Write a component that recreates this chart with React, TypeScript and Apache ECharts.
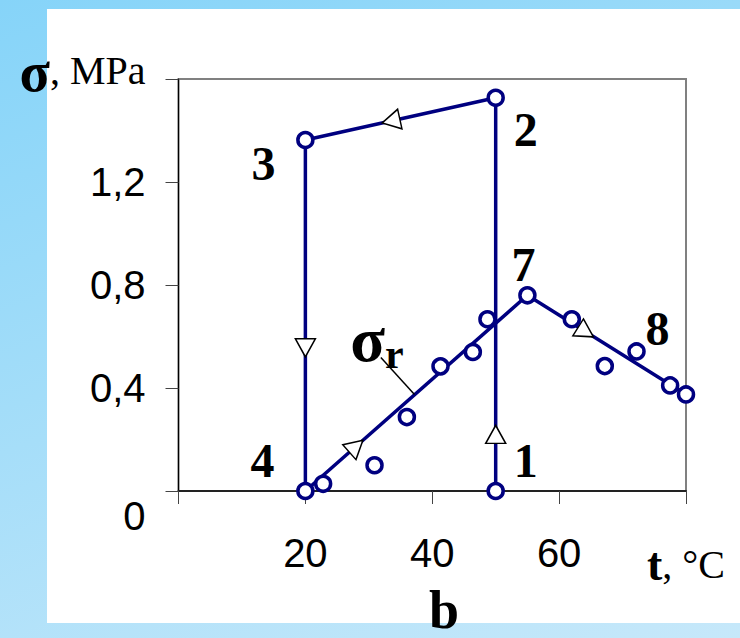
import React, { useEffect, useRef } from 'react';
import * as echarts from 'echarts';

// ---- data ----
const loopT = [50, 50, 20, 20];
const loopSigma = [0, 1.527, 1.363, 0];
const loopLabels = ['1', '2', '3', '4'];

const fitT = [20, 55, 80];
const fitSigma = [0, 0.76, 0.375];

const expT = [22.8, 30.9, 36.0, 41.3, 46.4, 48.7, 55.0, 62.0, 67.2, 72.2, 77.5, 80.0];
const expSigma = [0.028, 0.1, 0.287, 0.484, 0.54, 0.667, 0.76, 0.667, 0.485, 0.542, 0.41, 0.375];
const expLabels = ['', '', '', '', '', '', '7', '', '', '8', '', ''];

const arrowT = [50, 33.5, 20, 28, 64.2];
const arrowSigma = [0.22, 1.437, 0.556, 0.174, 0.617];

const leaderT = [31.9, 37.2];
const leaderSigma = [0.518, 0.375];

const xTickLabels = ['', '20', '40', '60', ''];
const yTickLabels = ['0', '0,4', '0,8', '1,2', ''];
const xAxisName = 't';
const xAxisUnit = ', °C';
const yAxisName = 'σ';
const yAxisUnit = ', MPa';
const fitName = 'σ';
const fitSub = 'r';
const panelLetter = 'b';

// ---- styles ----
const NAVY = '#000080';
const SERIF = 'Liberation Serif';
const SANS = 'Liberation Sans';
const arrowRotate = [0, 102.5, 180, -48.6, -122];
const labelOffset: Record<string, [number, number]> = {
  '1': [30, -31],
  '2': [30, 32],
  '3': [-42, 23],
  '4': [-43, -31],
  '7': [-4, -31],
  '8': [21, -23],
};

const numLabel = (txt: string) =>
  txt
    ? {
        label: {
          show: true,
          formatter: txt,
          position: 'inside',
          offset: labelOffset[txt],
          fontFamily: SERIF,
          fontWeight: 'bold',
          fontSize: 48,
          color: '#000',
        },
      }
    : {};

export default function App() {
  const ref = useRef<HTMLDivElement>(null);
  useEffect(() => {
    if (!ref.current) return;
    const chart = echarts.init(ref.current, undefined, { renderer: 'svg' });
    const option: any = {
      animation: false,
      title: {
        text: panelLetter,
        left: 429,
        top: 583,
        padding: 0,
        textStyle: { fontFamily: SERIF, fontWeight: 'bold', fontSize: 54, color: '#000' },
      },
      grid: {
        left: 178.5,
        right: 54,
        top: 79,
        bottom: 147,
        show: true,
        borderColor: '#808080',
        borderWidth: 2,
        outerBoundsMode: 'none',
        containLabel: false,
      },
      xAxis: {
        type: 'value',
        min: 0,
        max: 80,
        interval: 20,
        axisLine: { show: true, lineStyle: { color: '#222', width: 2 } },
        axisTick: { show: true, inside: false, length: 13, lineStyle: { color: '#444', width: 1 } },
        splitLine: { show: false },
        axisLabel: {
          margin: 42,
          fontFamily: SANS,
          fontSize: 40,
          color: '#000',
          showMinLabel: true,
          showMaxLabel: true,
          formatter: (v: number) => {
            const i = Math.round(v / 20);
            if (i === 4) return `{n|${xAxisName}}{u|${xAxisUnit}}`;
            return xTickLabels[i] ?? '';
          },
          rich: {
            n: { fontFamily: SERIF, fontWeight: 'bold', fontSize: 46, color: '#000', padding: [8, 0, 0, 0] },
            u: { fontFamily: SERIF, fontSize: 40, color: '#000', padding: [8, 0, 0, 0] },
          },
        },
      },
      yAxis: {
        type: 'value',
        min: 0,
        max: 1.6,
        interval: 0.4,
        axisLine: { show: true, lineStyle: { color: '#000', width: 1.2 } },
        axisTick: { show: true, inside: false, length: 13, lineStyle: { color: '#444', width: 1 } },
        splitLine: { show: false },
        axisLabel: {
          margin: 33,
          fontFamily: SANS,
          fontSize: 40,
          color: '#000',
          showMinLabel: true,
          showMaxLabel: true,
          formatter: (v: number) => {
            const i = Math.round(v / 0.4);
            if (i === 4) return `{n|${yAxisName}}{u|${yAxisUnit}}`;
            if (i === 0) return `{z|${yTickLabels[0]}}`;
            return yTickLabels[i] ?? '';
          },
          rich: {
            n: { fontFamily: SERIF, fontWeight: 'bold', fontSize: 56, color: '#000', padding: [0, 0, 14, 0] },
            u: { fontFamily: SERIF, fontSize: 40, color: '#000', padding: [0, 0, 18, 0] },
            z: { fontFamily: SANS, fontSize: 40, color: '#000', padding: [50, 0, 0, 0] },
          },
        },
      },
      series: [
        {
          name: 'fit',
          type: 'line',
          data: fitT.map((t, i) => [t, fitSigma[i]]),
          showSymbol: false,
          lineStyle: { color: NAVY, width: 3.5 },
          z: 2,
        },
        {
          name: 'loop',
          type: 'line',
          data: loopT.map((t, i) => ({ value: [t, loopSigma[i]], ...numLabel(loopLabels[i]) })),
          symbol: 'circle',
          symbolSize: 15,
          showAllSymbol: true,
          lineStyle: { color: NAVY, width: 3.5 },
          itemStyle: { color: '#fff', borderColor: NAVY, borderWidth: 3.5, opacity: 1 },
          z: 3,
        },
        {
          name: 'leader',
          type: 'line',
          data: leaderT.map((t, i) => [t, leaderSigma[i]]),
          showSymbol: false,
          lineStyle: { color: '#000', width: 1.5 },
          z: 2,
        },
        {
          name: 'arrows',
          type: 'scatter',
          data: arrowT.map((t, i) => ({ value: [t, arrowSigma[i]], symbolRotate: arrowRotate[i] })),
          symbol: 'triangle',
          symbolSize: [20, 18],
          itemStyle: { color: '#fff', borderColor: '#000', borderWidth: 1.5, opacity: 1 },
          z: 4,
        },
        {
          name: 'experiment',
          type: 'scatter',
          data: expT.map((t, i) => ({ value: [t, expSigma[i]], ...numLabel(expLabels[i]) })),
          symbol: 'circle',
          symbolSize: 15,
          clip: false,
          itemStyle: { color: '#fff', borderColor: NAVY, borderWidth: 3.5, opacity: 1 },
          z: 5,
        },
        {
          name: 'fitLabel',
          type: 'scatter',
          data: [[leaderT[0], leaderSigma[0]]],
          symbol: 'circle',
          symbolSize: 1,
          itemStyle: { color: 'rgba(0,0,0,0)', opacity: 1 },
          label: {
            show: true,
            position: 'inside',
            offset: [-4, -18],
            formatter: `{a|${fitName}}{b|${fitSub}}`,
            rich: {
              a: { fontFamily: SERIF, fontWeight: 'bold', fontSize: 64, color: '#000' },
              b: { fontFamily: SERIF, fontWeight: 'bold', fontSize: 42, color: '#000', padding: [28, 0, 0, 0] },
            },
          },
          z: 6,
        },
      ],
    };
    chart.setOption(option);
    return () => chart.dispose();
  }, []);

  return (
    <div
      style={{
        position: 'fixed',
        left: 0,
        top: 0,
        width: 740,
        height: 638,
        background: 'linear-gradient(160deg, #86d4f9 0%, #a6def9 50%, #c6e8fa 100%)',
        overflow: 'hidden',
      }}
    >
      <div style={{ position: 'absolute', left: 47, top: 9, width: 693, height: 614, background: '#fff' }} />
      <div ref={ref} style={{ position: 'absolute', left: 0, top: 0, width: 740, height: 638 }} />
    </div>
  );
}
